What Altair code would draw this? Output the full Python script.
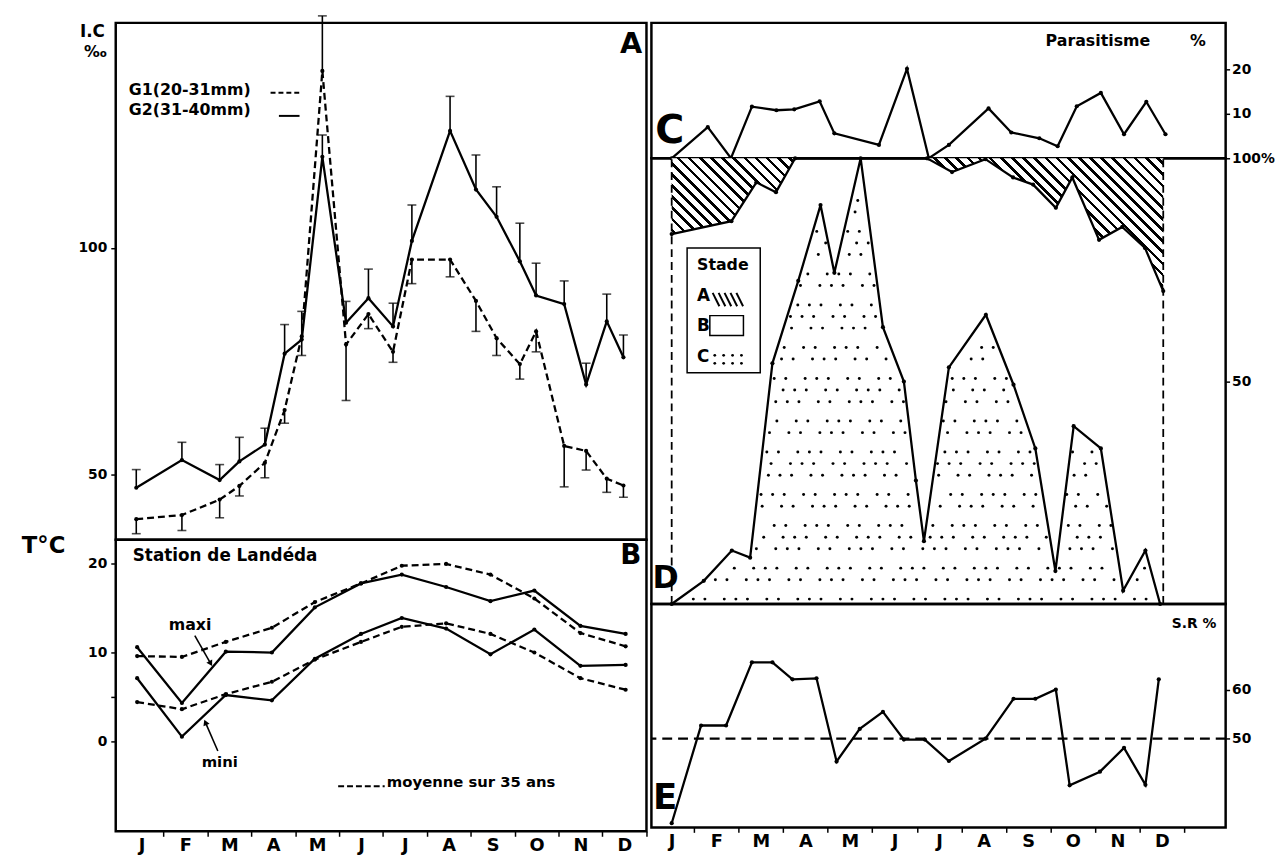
import math
import altair as alt
import numpy as np
import pandas as pd

FONT = "DejaVu Sans"

# ------------------------------------------------------------------ data
month_labels = ["J", "F", "M", "A", "M", "J", "J", "A", "S", "O", "N", "D"]

# Panel A : condition index I.C (per mille), 21 sampling dates (month units, 0 = January)
a_month = [-0.12, 0.92, 1.78, 2.23, 2.81, 3.26, 3.65, 4.12, 4.66, 5.17, 5.73,
           6.16, 7.03, 7.62, 8.09, 8.62, 8.99, 9.63, 10.13, 10.60, 10.98]
g2_ic = [47.2, 53.3, 48.9, 53.0, 56.7, 76.7, 79.8, 120.0, 83.5, 88.9, 82.7,
         101.5, 125.7, 112.8, 106.8, 97.0, 89.5, 87.6, 69.9, 83.8, 75.9]
g2_bar = [51.2, 57.2, 52.3, 58.3, 60.3, 83.1, 86.0, 124.8, 88.2, 95.3, 87.8,
          109.4, 133.3, 120.4, 113.4, 105.4, 96.6, 92.7, 74.6, 89.8, 80.8]
g1_ic = [40.3, 41.2, 44.6, 47.6, 52.7, 64.3, 80.5, 138.9, 78.7, 85.4, 77.1,
         97.4, 97.4, 88.3, 80.1, 74.4, 81.6, 56.4, 55.3, 49.2, 47.7]
g1_bar = [37.1, 37.8, 40.6, 45.4, 49.4, 61.4, 76.3, 151.0, 66.4, 82.2, 74.8,
          92.1, 93.6, 81.6, 76.3, 71.1, 77.1, 47.4, 51.1, 46.2, 45.1]

# Panel B : temperatures, Station de Landeda
b_month = [-0.1, 0.92, 1.92, 2.97, 3.95, 5.0, 5.93, 6.94, 7.95, 8.95, 10.0, 11.03]
t_max = [10.6, 4.3, 10.1, 10.0, 15.1, 17.8, 18.8, 17.4, 15.8, 17.0, 13.0, 12.1]
t_max_mean = [9.6, 9.5, 11.2, 12.8, 15.7, 17.8, 19.8, 20.0, 18.8, 16.1, 12.2, 10.7]
t_min = [7.1, 0.5, 5.2, 4.6, 9.3, 12.1, 13.9, 12.7, 9.8, 12.6, 8.5, 8.6]
t_min_mean = [4.4, 3.6, 5.3, 6.7, 9.2, 11.2, 12.9, 13.3, 12.1, 10.0, 7.1, 5.8]

# Panel C : parasitism %
c_month = [0.0, 0.81, 1.33, 1.80, 2.35, 2.75, 3.32, 3.65, 4.65, 5.28, 5.77,
           6.22, 7.11, 7.62, 8.25, 8.66, 9.09, 9.63, 10.15, 10.65, 11.08]
parasitism = [0.0, 7.0, 0.0, 11.6, 10.8, 11.0, 12.8, 5.6, 3.0, 20.1, 0.0,
              3.0, 11.2, 5.8, 4.5, 2.7, 11.7, 14.7, 5.4, 12.7, 5.4]

# Panel D : stages (cumulative %)
d_month = [0.0, 0.72, 1.35, 1.76, 2.26, 2.84, 3.34, 3.65, 4.24, 4.74, 5.21, 5.48,
           5.66, 6.22, 7.05, 7.67, 8.16, 8.61, 9.02, 9.63, 10.13, 10.63, 10.96]
stage_c = [0.0, 5.2, 12.0, 10.4, 54.0, 72.5, 89.5, 74.3, 100.0, 62.1, 49.9, 27.7,
           14.1, 53.1, 64.9, 49.2, 34.9, 7.4, 39.9, 34.9, 3.0, 12.0, 0.0]
da_month = [0.0, 1.34, 1.90, 2.34, 2.77, 5.73, 6.29, 7.04, 7.66, 8.11, 8.62,
            8.99, 9.59, 10.11, 10.62, 11.03]
stage_bc = [83.0, 85.9, 94.6, 92.4, 100.0, 100.0, 96.9, 99.8, 95.7, 94.1, 88.9,
            95.7, 81.7, 84.6, 79.9, 70.2]

# Panel E : sex ratio %
e_month = [0.0, 0.66, 1.22, 1.80, 2.26, 2.71, 3.25, 3.70, 4.22, 4.74, 5.21,
           5.68, 6.22, 7.04, 7.67, 8.16, 8.62, 8.93, 9.61, 10.15, 10.63, 10.93]
sex_ratio = [32.6, 52.7, 52.7, 65.7, 65.7, 62.2, 62.4, 45.3, 52.0, 55.5, 49.8,
             49.8, 45.4, 50.0, 58.2, 58.2, 60.1, 40.4, 43.2, 48.1, 40.5, 62.2]

# ------------------------------------------------------------------ layout
WL, WR = 537, 581
HA, HB = 523, 295
HC, HD, HE = 137, 451, 226
XL = [-0.588, 11.505]
XR = [-0.455, 12.430]
YA = [35.76, 149.46]
YB = [-10.19, 22.73]
YC = [0.0, 30.44]
YD = [0.0, 100.0]
YE = [31.74, 77.69]

PXM_L = WL / (XL[1] - XL[0])
PXM_R = WR / (XR[1] - XR[0])
PYU_B = HB / (YB[1] - YB[0])
PYU_D = HD / (YD[1] - YD[0])
LW = 2.3

month_expr = "[" + ",".join("'%s'" % m for m in month_labels) + "][datum.value]"


def month_axis(pxm):
    half = pxm / 2.0
    return alt.Axis(values=list(range(12)), labelExpr=month_expr, title=None,
                    tickOffset=half, labelOffset=-half, tickSize=5,
                    labelPadding=0, labelFontSize=18, labelFlush=False,
                    labelOverlap=False, domain=False, grid=False)


def left_axis(values, expr=None):
    kw = dict(values=values, title=None, tickSize=5, labelPadding=4,
              domain=False, grid=False, labelOverlap=False)
    if expr:
        kw["labelExpr"] = expr
    return alt.Axis(**kw)


def right_axis(values, expr=None):
    kw = dict(values=values, title=None, orient="right", tickSize=4, labelPadding=2,
              domain=False, grid=False, labelOverlap=False)
    if expr:
        kw["labelExpr"] = expr
    return alt.Axis(**kw)


# panel descriptors: domains and the axes every layer of the panel shares
PA = dict(xd=XL, yd=YA, xa=None, ya=left_axis([50, 100]))
PB = dict(xd=XL, yd=YB, xa=month_axis(PXM_L),
          ya=left_axis([0, 5, 10, 20], "datum.value == 5 ? '' : datum.label"))
PC = dict(xd=XR, yd=YC, xa=None, ya=right_axis([10, 20]))
PD = dict(xd=XR, yd=YD, xa=None,
          ya=right_axis([50, 100], "datum.value == 100 ? '100%' : datum.label"))
PE = dict(xd=XR, yd=YE, xa=month_axis(PXM_R), ya=right_axis([50, 60]))


def sc(dom):
    return alt.Scale(domain=dom, nice=False, zero=False)


def xq(field, P):
    return alt.X(field, type="quantitative", scale=sc(P["xd"]), axis=P["xa"])


def yq(field, P):
    return alt.Y(field, type="quantitative", scale=sc(P["yd"]), axis=P["ya"])


def line(df, yf, P, dash=None, width=LW, dot=18):
    kw = dict(color="black", strokeWidth=width)
    if dot:
        kw["point"] = alt.OverlayMarkDef(filled=True, color="black", size=dot)
    if dash:
        kw["strokeDash"] = dash
    return alt.Chart(df).mark_line(**kw).encode(x=xq("m", P), y=yq(yf, P))


def tx(rows, P, align="left", baseline="middle"):
    df = pd.DataFrame(rows, columns=["x", "y", "t", "fs"])
    return alt.Chart(df).mark_text(
        align=align, baseline=baseline, font=FONT, fontWeight="bold", color="black"
    ).encode(x=xq("x", P), y=yq("y", P), text="t:N",
             size=alt.Size("fs:Q", scale=None, legend=None))


def ptx(text, px, py, fs, align="left"):
    return alt.Chart(pd.DataFrame({"t": [text]})).mark_text(
        align=align, baseline="middle", font=FONT, fontWeight="bold",
        fontSize=fs, color="black"
    ).encode(x=alt.value(px), y=alt.value(py), text="t:N")


def seg(rows, P, dash=None, w=2.0):
    """rows: [x1, x2, y1, y2]"""
    df = pd.DataFrame(rows, columns=["x", "x2", "y", "y2"])
    kw = dict(color="black", strokeWidth=w)
    if dash:
        kw["strokeDash"] = dash
    return alt.Chart(df).mark_rule(**kw).encode(
        x=xq("x", P), x2=alt.X2("x2"), y=yq("y", P), y2=alt.Y2("y2"))


# ------------------------------------------------------------------ panel A
dfA = pd.DataFrame({"m": a_month, "g2": g2_ic, "g2b": g2_bar,
                    "g1": g1_ic, "g1b": g1_bar})
errA = []
for f, fb in (("g2", "g2b"), ("g1", "g1b")):
    errA.append(alt.Chart(dfA).mark_rule(color="black", strokeWidth=1.6).encode(
        x=xq("m", PA), y=yq(f, PA), y2=alt.Y2(fb)))
    errA.append(alt.Chart(dfA).mark_tick(orient="horizontal", size=9, thickness=1.6,
                                          color="black").encode(
        x=xq("m", PA), y=yq(fb, PA)))

panelA = alt.layer(
    line(dfA, "g2", PA),
    line(dfA, "g1", PA, dash=[7, 4]),
    *errA,
    tx([[-0.29, 134.7, "G1(20-31mm)", 16], [-0.29, 130.2, "G2(31-40mm)", 16]], PA),
    seg([[2.94, 3.60, 134.1, 134.1]], PA, dash=[5, 3]),
    seg([[3.13, 3.60, 129.0, 129.0]], PA),
    tx([[11.41, 144.7, "A", 29]], PA, align="right"),
    ptx("I.C", -11, 9, 17, align="right"),
    ptx("‰", -9, 30, 16, align="right"),
).properties(width=WL, height=HA)

# ------------------------------------------------------------------ panel B
dfB = pd.DataFrame({"m": b_month, "tx": t_max, "txm": t_max_mean,
                    "tn": t_min, "tnm": t_min_mean})


def arrow_angle(x1, x2, y1, y2):
    dx = (x2 - x1) * PXM_L
    dy = -(y2 - y1) * PYU_B
    return math.degrees(math.atan2(dx, -dy)) % 360


arrows = [[1.214, 1.576, 11.91, 8.75], [1.738, 1.455, -1.12, 2.12]]
dfHeads = pd.DataFrame({"x": [a[1] for a in arrows], "y": [a[3] for a in arrows],
                        "ang": [arrow_angle(*a) for a in arrows]})

panelB = alt.layer(
    line(dfB, "tx", PB),
    line(dfB, "txm", PB, dash=[7, 4]),
    line(dfB, "tn", PB),
    line(dfB, "tnm", PB, dash=[7, 4]),
    seg(arrows, PB, w=1.6),
    alt.Chart(dfHeads).mark_point(shape="triangle-up", filled=True, color="black",
                                  size=45, opacity=1).encode(
        x=xq("x", PB), y=yq("y", PB), angle=alt.Angle("ang:Q", scale=None)),
    tx([[-0.2, 20.84, "Station de Landéda", 17],
        [0.62, 13.14, "maxi", 16],
        [1.37, -2.38, "mini", 15],
        [5.59, -4.6, "moyenne sur 35 ans", 15]], PB),
    seg([[4.48, 5.54, -5.1, -5.1]], PB, dash=[6, 3]),
    tx([[11.39, 20.84, "B", 28]], PB, align="right"),
    ptx("T°C", -95, 6, 23),
).properties(width=WL, height=HB)

# ------------------------------------------------------------------ panel C
dfC = pd.DataFrame({"m": c_month, "p": parasitism})
panelC = alt.layer(
    line(dfC, "p", PC),
    tx([[8.39, 26.3, "Parasitisme", 16], [11.63, 26.3, "%", 16],
        [-0.37, 6.1, "C", 40]], PC),
).properties(width=WR, height=HC)

# ------------------------------------------------------------------ panel D
dfDc = pd.DataFrame({"m": d_month, "c": stage_c})
dfDa = pd.DataFrame({"m": da_month, "ab": stage_bc, "top": [100.0] * len(da_month)})

# diagonal hatching for stage A (gradient stripes)
bw = (max(da_month) - min(da_month)) * PXM_R
bh = (100.0 - min(stage_bc)) * PYU_D
L = (bw + bh) / math.sqrt(2)
n_str = int(round(L / 8.0))
k = (bw + bh) / (bw ** 2 + bh ** 2)
half = 1.3 / L
stops = [{"offset": 0.0, "color": "white"}]
for i in range(n_str):
    c = (i + 0.5) / n_str
    a0, a1 = round(c - half, 5), round(c + half, 5)
    stops += [{"offset": a0, "color": "white"}, {"offset": a0, "color": "black"},
              {"offset": a1, "color": "black"}, {"offset": a1, "color": "white"}]
stops.append({"offset": 1.0, "color": "white"})
hatch = {"gradient": "linear", "x1": 0, "y1": 1, "x2": k * bw, "y2": 1 - k * bh,
         "stops": stops}

# stippling for stage C: staggered texture (about 15 px apart) under the stage C curve
dots = []
gstep_x, gstep_y = 0.33, 3.3
for r, yv in enumerate(np.arange(1.8, 100, gstep_y)):
    off = gstep_x / 2 if r % 2 else 0.0
    for j, xv in enumerate(np.arange(0.12 + off, 11.0, gstep_x)):
        wob = ((r * 7 + j * 3) % 5 - 2) * 0.035
        wy = ((r * 3 + j * 5) % 5 - 2) * 0.35
        px, py = xv + wob, yv + wy
        if 1.0 < py < np.interp(px, d_month, stage_c) - 2.2:
            dots.append((px, py))
dfDots = pd.DataFrame(dots, columns=["x", "y"])

legend_box = pd.DataFrame({"x": [0.346], "x2": [1.987], "y": [51.88], "y2": [79.85]})
b_box = pd.DataFrame({"x": [0.856], "x2": [1.61], "y": [60.25], "y2": [64.7]})
hatch_glyph = [[0.92 + 0.133 * i, 1.07 + 0.133 * i, 69.8, 66.8] for i in range(5)]
c_glyph = pd.DataFrame({"x": [0.967, 1.166, 1.366, 1.565] * 2,
                        "y": [55.8] * 4 + [54.0] * 4})

panelD = alt.layer(
    alt.Chart(dfDa).mark_area(fill=hatch, stroke=None).encode(
        x=xq("m", PD), y=yq("ab", PD), y2=alt.Y2("top")),
    alt.Chart(dfDots).mark_circle(size=9, color="black", opacity=1).encode(
        x=xq("x", PD), y=yq("y", PD)),
    seg([[0.0, 0.0, 0.0, 100.0], [11.03, 11.03, 0.0, 100.0]], PD, dash=[8, 5], w=1.8),
    line(dfDc, "c", PD),
    line(dfDa, "ab", PD),
    alt.Chart(legend_box).mark_rect(fill="white", stroke="black", strokeWidth=1.5).encode(
        x=xq("x", PD), x2=alt.X2("x2"), y=yq("y", PD), y2=alt.Y2("y2")),
    alt.Chart(b_box).mark_rect(fill="white", stroke="black", strokeWidth=1.5).encode(
        x=xq("x", PD), x2=alt.X2("x2"), y=yq("y", PD), y2=alt.Y2("y2")),
    seg(hatch_glyph, PD, w=2.0),
    alt.Chart(c_glyph).mark_circle(size=8, color="black", opacity=1).encode(
        x=xq("x", PD), y=yq("y", PD)),
    tx([[0.568, 76.15, "Stade", 16], [0.568, 69.1, "A", 17],
        [0.568, 62.3, "B", 17], [0.568, 55.5, "C", 17],
        [-0.43, 5.9, "D", 32]], PD),
).properties(width=WR, height=HD)

# ------------------------------------------------------------------ panel E
dfE = pd.DataFrame({"m": e_month, "sr": sex_ratio})
dfHalf = pd.DataFrame({"v": [50.0]})
panelE = alt.layer(
    alt.Chart(dfHalf).mark_rule(color="black", strokeWidth=2.5,
                                strokeDash=[10, 6]).encode(y=yq("v", PE)),
    line(dfE, "sr", PE),
    tx([[12.22, 73.5, "S.R %", 14]], PE, align="right"),
    tx([[-0.42, 37.8, "E", 36]], PE),
).properties(width=WR, height=HE)

# ------------------------------------------------------------------ assemble
left = alt.vconcat(panelA, panelB, spacing=0, bounds="flush")
right = alt.vconcat(panelC, panelD, panelE, spacing=0, bounds="flush")
chart = alt.hconcat(left, right, spacing=0).properties(
    padding={"left": 12, "top": 0, "right": 4, "bottom": 4},
    background="white",
).configure_view(
    stroke="black", strokeWidth=2.5
).configure_axis(
    labelFont=FONT, labelFontWeight="bold", labelFontSize=14, labelColor="black",
    tickColor="black", tickWidth=1.5, domain=False, grid=False
)

chart.save("out.html", embed_options={"renderer": "svg", "actions": False})
